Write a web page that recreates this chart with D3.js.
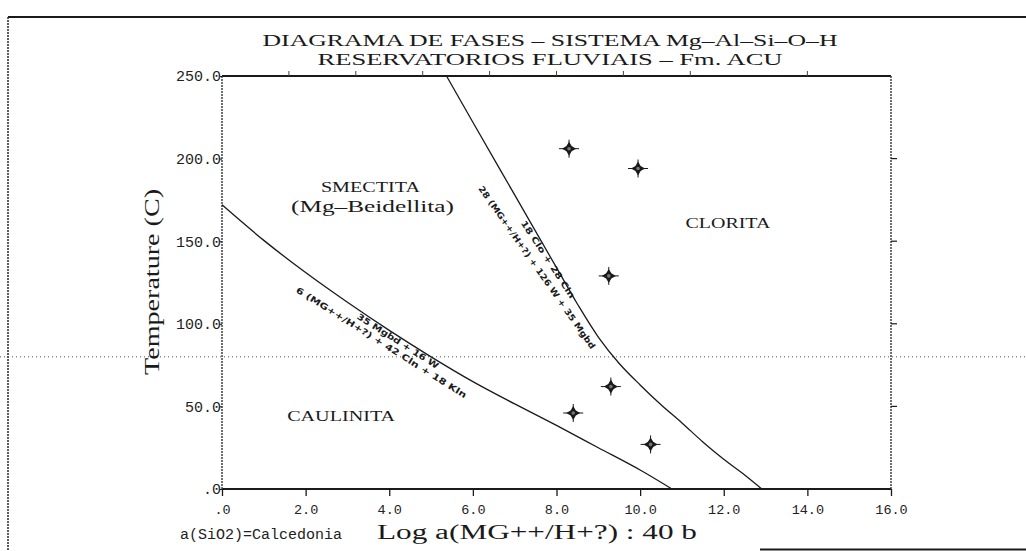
<!DOCTYPE html>
<html>
<head>
<meta charset="utf-8">
<script src="https://cdn.jsdelivr.net/npm/d3@7"></script>
<style>
  html, body { margin: 0; padding: 0; background: #fff; }
  svg { display: block; }
</style>
</head>
<body>
<svg id="chart" width="1026" height="551"></svg>
<script>
// ---------- DATA ----------
const xTicks = [0, 2, 4, 6, 8, 10, 12, 14, 16];
const xTickLabels = [".0", "2.0", "4.0", "6.0", "8.0", "10.0", "12.0", "14.0", "16.0"];
const yTicks = [0, 50, 100, 150, 200, 250];
const yTickLabels = [".0", "50.0", "100.0", "150.0", "200.0", "250.0"];
const topTicks = [1.6, 3.2, 4.8, 6.4, 8.0, 9.6, 11.2, 14.0];
const rightTicks = [50, 100, 150, 200];

// Smectite / Kaolinite boundary
const curve1X = [0, 1, 2, 3, 4, 5, 6, 7, 8, 9, 10, 10.76];
const curve1T = [172, 150.5, 131, 113, 96, 80, 65, 51.5, 38.5, 25, 11.5, 0];
// Smectite / Chlorite boundary
const curve2X = [5.37, 6, 7, 8, 8.5, 9, 9.5, 10, 10.5, 11, 11.5, 12, 12.5, 12.91];
const curve2T = [250, 222, 178, 134, 112, 92, 76, 63, 51, 40, 28.5, 18, 8.5, 0];

// Sample points
const ptsX = [8.3, 9.95, 9.25, 9.3, 8.4, 10.25];
const ptsT = [206, 194, 129, 62, 46, 27];

const titleLines = ["DIAGRAMA DE FASES  \u2013  SISTEMA Mg\u2013Al\u2013Si\u2013O\u2013H",
                    "RESERVATORIOS FLUVIAIS  \u2013  Fm. ACU"];
const fieldLabels = ["SMECTITA", "(Mg\u2013Beidellita)", "CLORITA", "CAULINITA"];
const fieldX = [3.55, 3.6, 12.1, 2.85];
const fieldT = [183, 171, 161, 44];

const reactionLabels = ["35 Mgbd + 16 W", "6 (MG++/H+?) + 42 Cln + 18 Kln",
                        "18 Clo + 28 Cln", "28 (MG++/H+?) + 126 W + 35 Mgbd"];
const reactionX = [3.25, 1.79, 7.2, 6.18];
const reactionT = [105, 121, 162, 183];

const xAxisTitle = "Log  a(MG++/H+?)  :  40  b";
const yAxisTitle = "Temperature  (C)";
const noteText = "a(SiO2)=Calcedonia";

// ---------- LAYOUT ----------
const svg = d3.select("#chart");
const x = d3.scaleLinear().domain([0, 16]).range([222, 891]);
const y = d3.scaleLinear().domain([0, 250]).range([489, 76]);
const ink = "#1a1a1a";
const serif = "'Liberation Serif', 'DejaVu Serif', serif";
const mono = "'Liberation Mono', 'DejaVu Sans Mono', monospace";

// page frame (scan border) and fold line
svg.append("line").attr("x1", 8).attr("x2", 1026).attr("y1", 17).attr("y2", 17)
  .attr("stroke", ink).attr("stroke-width", 2);
svg.append("line").attr("x1", 8).attr("x2", 8).attr("y1", 17).attr("y2", 551)
  .attr("stroke", "#333").attr("stroke-width", 1.6).attr("stroke-dasharray", "2,1");
svg.append("line").attr("x1", 760).attr("x2", 1026).attr("y1", 549.5).attr("y2", 549.5)
  .attr("stroke", ink).attr("stroke-width", 2);
svg.append("line").attr("x1", 0).attr("x2", 1026).attr("y1", y(80)).attr("y2", y(80))
  .attr("stroke", "#555").attr("stroke-width", 1).attr("stroke-dasharray", "1,3");

// plot box
svg.append("line").attr("x1", x(0)).attr("x2", x(16)).attr("y1", y(0)).attr("y2", y(0))
  .attr("stroke", ink).attr("stroke-width", 2);
svg.append("line").attr("x1", x(0)).attr("x2", x(16)).attr("y1", y(250)).attr("y2", y(250))
  .attr("stroke", ink).attr("stroke-width", 2);
svg.append("line").attr("x1", x(0)).attr("x2", x(0)).attr("y1", y(0)).attr("y2", y(250))
  .attr("stroke", "#333").attr("stroke-width", 1.4).attr("stroke-dasharray", "2,1");
svg.append("line").attr("x1", x(16)).attr("x2", x(16)).attr("y1", y(0)).attr("y2", y(250))
  .attr("stroke", "#333").attr("stroke-width", 1.4).attr("stroke-dasharray", "2,1");

// bottom axis
const xAxis = d3.axisBottom(x).tickValues(xTicks)
  .tickFormat((d, i) => xTickLabels[i]).tickSize(7).tickPadding(8);
const gx = svg.append("g").attr("transform", `translate(0,${y(0)})`).call(xAxis);
gx.select(".domain").remove();
gx.selectAll("line").attr("stroke", ink).attr("stroke-width", 1.3);
gx.selectAll("text").attr("font-family", mono).attr("font-size", 13.5).attr("fill", "#222");

// top minor ticks
svg.append("g").selectAll("line").data(topTicks).join("line")
  .attr("x1", d => x(d)).attr("x2", d => x(d))
  .attr("y1", y(250)).attr("y2", y(250) - 5)
  .attr("stroke", "#444").attr("stroke-width", 1);

// left axis
const yAxis = d3.axisLeft(y).tickValues(yTicks)
  .tickFormat((d, i) => yTickLabels[i]).tickSize(2).tickPadding(-1);
const gy = svg.append("g").attr("transform", `translate(${x(0)},0)`).call(yAxis);
gy.select(".domain").remove();
gy.selectAll("line").attr("stroke", ink);
gy.selectAll("text").attr("font-family", mono).attr("font-size", 15).attr("fill", "#222");

// right ticks
svg.append("g").selectAll("line").data(rightTicks).join("line")
  .attr("x1", x(16)).attr("x2", x(16) + 6)
  .attr("y1", d => y(d)).attr("y2", d => y(d))
  .attr("stroke", ink).attr("stroke-width", 1.2);

// curves
const line = d3.line().x(d => x(d[0])).y(d => y(d[1])).curve(d3.curveCatmullRom.alpha(0.5));
svg.append("path").datum(curve1X.map((v, i) => [v, curve1T[i]]))
  .attr("d", line).attr("fill", "none").attr("stroke", ink).attr("stroke-width", 1.3);
svg.append("path").datum(curve2X.map((v, i) => [v, curve2T[i]]))
  .attr("d", line).attr("fill", "none").attr("stroke", ink).attr("stroke-width", 1.3);

// points (4-point star + crosshair)
const star = "M0,-7 L2.6,-2.6 L7,0 L2.6,2.6 L0,7 L-2.6,2.6 L-7,0 L-2.6,-2.6 Z";
const pg = svg.append("g").selectAll("g").data(ptsX.map((v, i) => [v, ptsT[i]])).join("g")
  .attr("transform", d => `translate(${x(d[0])},${y(d[1])})`);
pg.append("line").attr("x1", -10).attr("x2", 10).attr("y1", 0).attr("y2", 0)
  .attr("stroke", ink).attr("stroke-width", 1);
pg.append("line").attr("x1", 0).attr("x2", 0).attr("y1", -9).attr("y2", 9)
  .attr("stroke", ink).attr("stroke-width", 1);
pg.append("path").attr("d", star).attr("fill", ink);
pg.append("circle").attr("r", 1.8).attr("fill", "#777");

// titles
const titleLen = [575, 465];
const titleY = [46, 65];
titleLines.forEach((t, i) => {
  svg.append("text").attr("x", 550).attr("y", titleY[i]).attr("text-anchor", "middle")
    .attr("font-family", serif).attr("font-size", 16.5).attr("fill", ink)
    .attr("textLength", titleLen[i]).attr("lengthAdjust", "spacingAndGlyphs").text(t);
});

// field labels
const fieldSize = [15.5, 16, 14.5, 14.5];
const fieldLen = [99, 163, 85, 108];
fieldLabels.forEach((t, i) => {
  svg.append("text").attr("x", x(fieldX[i])).attr("y", y(fieldT[i]))
    .attr("text-anchor", "middle").attr("dominant-baseline", "central")
    .attr("font-family", serif).attr("font-size", fieldSize[i]).attr("fill", ink)
    .attr("textLength", fieldLen[i]).attr("lengthAdjust", "spacingAndGlyphs").text(t);
});

// reaction labels along curves
const reactAngle = [32.5, 32.3, 56.7, 55];
const reactLen = [95, 200, 91, 197];
reactionLabels.forEach((t, i) => {
  svg.append("text")
    .attr("transform", `translate(${x(reactionX[i])},${y(reactionT[i])}) rotate(${reactAngle[i]})`)
    .attr("dominant-baseline", "central")
    .attr("font-family", "'DejaVu Sans', sans-serif").attr("font-weight", "bold")
    .attr("font-size", 8.5).attr("fill", ink)
    .attr("textLength", reactLen[i]).attr("lengthAdjust", "spacingAndGlyphs").text(t);
});

// axis titles
svg.append("text").attr("transform", "translate(159,282) rotate(-90)")
  .attr("text-anchor", "middle").attr("font-family", serif).attr("font-size", 21)
  .attr("fill", ink).attr("textLength", 186).attr("lengthAdjust", "spacingAndGlyphs")
  .text(yAxisTitle);
svg.append("text").attr("x", 377).attr("y", 539)
  .attr("font-family", serif).attr("font-size", 20.5).attr("fill", ink)
  .attr("textLength", 320).attr("lengthAdjust", "spacingAndGlyphs").text(xAxisTitle);
svg.append("text").attr("x", 180).attr("y", 539)
  .attr("font-family", mono).attr("font-size", 14).attr("fill", "#222")
  .attr("textLength", 162).attr("lengthAdjust", "spacingAndGlyphs").text(noteText);
</script>
</body>
</html>
